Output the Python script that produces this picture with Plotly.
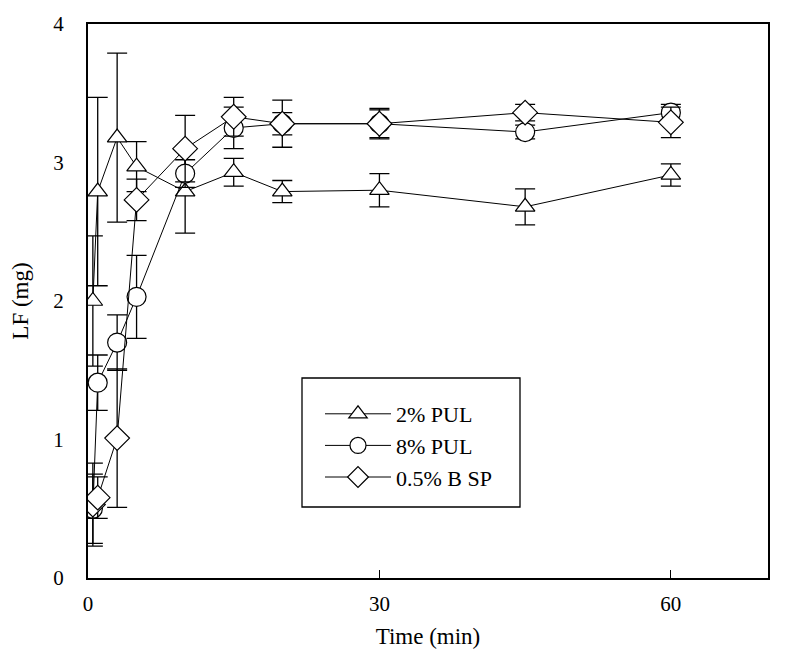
import plotly.graph_objects as go

times = [0.5, 1, 3, 5, 10, 15, 20, 30, 45, 60]

pul2 = [2.00, 2.79, 3.18, 2.97, 2.79, 2.93, 2.79, 2.80, 2.68, 2.91]
pul2_err = [0.47, 0.68, 0.61, 0.18, 0.30, 0.10, 0.08, 0.12, 0.13, 0.08]

pul8 = [0.50, 1.41, 1.70, 2.03, 2.92, 3.25, 3.28, 3.28, 3.22, 3.36]
pul8_err = [0.25, 0.20, 0.20, 0.30, 0.10, 0.15, 0.17, 0.10, 0.05, 0.06]

bsp = [0.53, 0.58, 1.01, 2.73, 3.10, 3.33, 3.28, 3.28, 3.36, 3.29]
bsp_err = [0.30, 0.15, 0.50, 0.15, 0.24, 0.14, 0.08, 0.11, 0.06, 0.11]

series = [
    ("2% PUL", pul2, pul2_err, "triangle-up", 17),
    ("8% PUL", pul8, pul8_err, "circle", 19),
    ("0.5% B SP", bsp, bsp_err, "diamond", 19),
]

FONT = "Liberation Serif"
fig = go.Figure()
for name, ys, errs, sym, sz in series:
    fig.add_trace(go.Scatter(
        x=times, y=ys, name=name, mode="lines+markers",
        line=dict(color="black", width=1),
        marker=dict(symbol=sym, size=sz, color="white",
                    line=dict(color="black", width=1.2)),
        error_y=dict(type="data", array=errs, visible=True,
                     color="black", thickness=1.3, width=10),
    ))

# legend frame (decorative)
fig.add_shape(type="rect", xref="paper", yref="paper",
              x0=(302 - 88) / 680, x1=(520 - 88) / 680,
              y0=(578 - 507) / 554, y1=(578 - 378) / 554,
              line=dict(color="black", width=1.3), fillcolor="rgba(0,0,0,0)",
              layer="above")

fig.update_layout(
    width=785, height=665,
    margin=dict(l=80, r=25, t=16, b=95),
    paper_bgcolor="white", plot_bgcolor="white",
    font=dict(family=FONT, color="black", size=21),
    showlegend=True,
    legend=dict(
        x=(320 - 88) / 680, y=(578 - 393) / 554, xanchor="left", yanchor="top",
        borderwidth=0, bgcolor="rgba(0,0,0,0)",
        font=dict(family=FONT, size=22),
        itemwidth=66,
    ),
    xaxis=dict(
        range=[0, 70], tickvals=[0, 30, 60], ticktext=["0", "30", "60"],
        ticks="inside", ticklen=8, tickcolor="black", tickwidth=1.3,
        ticklabelstandoff=6, automargin=False,
        showline=True, linecolor="black", linewidth=2, mirror=True,
        showgrid=False, zeroline=False,
        title=dict(text="Time (min)", font=dict(family=FONT, size=23), standoff=13),
    ),
    yaxis=dict(
        range=[0, 4], tickvals=[0, 1, 2, 3, 4],
        ticks="", ticklabelstandoff=18, automargin=False,
        showline=True, linecolor="black", linewidth=2, mirror=True,
        showgrid=False, zeroline=False,
        title=dict(text="LF (mg)", font=dict(family=FONT, size=23), standoff=24),
    ),
)

fig.write_html("out.html")
